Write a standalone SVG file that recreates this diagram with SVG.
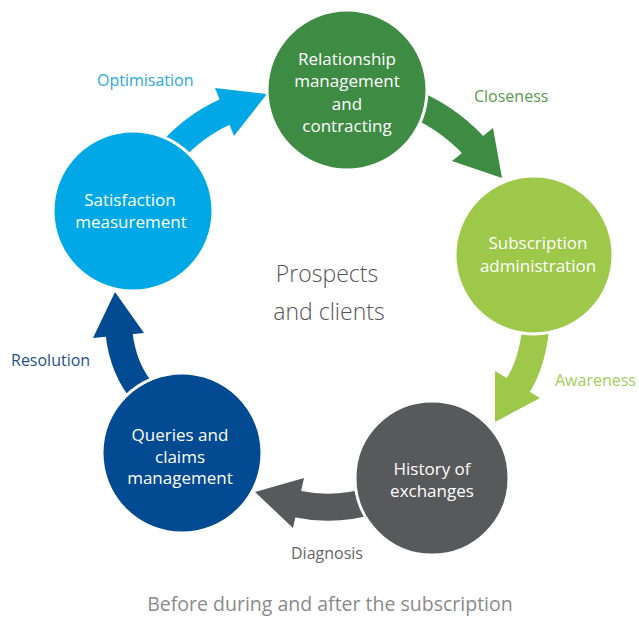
<svg xmlns="http://www.w3.org/2000/svg" width="639" height="618" viewBox="0 0 639 618">
<style>
.node{stroke:#fff;stroke-width:3}
.nt{font-family:"Open Sans","Liberation Sans",sans-serif;font-size:17px;fill:#fff;text-anchor:middle}
.lb{font-family:"Open Sans","Liberation Sans",sans-serif;font-size:16px}
.ctr{font-family:"Open Sans","Liberation Sans",sans-serif;font-size:23px;font-weight:300;fill:#555;text-anchor:middle}
.cap{font-family:"Open Sans","Liberation Sans",sans-serif;font-size:19.5px;fill:#8a8a8a;text-anchor:middle}
.shaft{fill:none;stroke-width:27;stroke-linecap:butt}
</style>
<rect width="639" height="618" fill="#fff"/>
<g id="connectors">
  <g id="arrow-optimisation">
    <path class="shaft" stroke="#00a9e6" d="M160 165 Q188 128 227 111"/>
    <polygon fill="#00a9e6" points="267,94 215,88 234,136"/>
  </g>
  <g id="arrow-closeness">
    <path class="shaft" stroke="#3e8b43" d="M405 100 Q445 115 474 146"/>
    <polygon fill="#3e8b43" points="502,178 493,128 452,161"/>
  </g>
  <g id="arrow-awareness">
    <path class="shaft" stroke="#9dc84a" d="M537 315 Q534 362 517 387"/>
    <polygon fill="#9dc84a" points="495,422 495,371 540,398"/>
  </g>
  <g id="arrow-diagnosis">
    <path class="shaft" stroke="#58595b" d="M375 500 Q335 512 297 504"/>
    <polygon fill="#58595b" points="255,492 304,478 293,528"/>
  </g>
  <g id="arrow-resolution">
    <path class="shaft" stroke="#024a92" d="M145 395 Q123 370 119 333"/>
    <polygon fill="#024a92" points="115,292 93,338 144,333"/>
  </g>
</g>
<g id="node-relationship">
  <circle class="node" cx="347" cy="90" r="80" fill="#3e8b43"/>
  <text class="nt" x="347" y="65">Relationship</text>
  <text class="nt" x="347" y="87">management</text>
  <text class="nt" x="347" y="110">and</text>
  <text class="nt" x="347" y="132">contracting</text>
</g>
<g id="node-subscription">
  <circle class="node" cx="534" cy="255" r="79" fill="#9dc84a"/>
  <text class="nt" x="538" y="249">Subscription</text>
  <text class="nt" x="538" y="272">administration</text>
</g>
<g id="node-history">
  <circle class="node" cx="432" cy="478" r="77" fill="#58595b"/>
  <text class="nt" x="432" y="475">History of</text>
  <text class="nt" x="432" y="497">exchanges</text>
</g>
<g id="node-queries">
  <circle class="node" cx="182" cy="453" r="80" fill="#024a92"/>
  <text class="nt" x="180" y="441">Queries and</text>
  <text class="nt" x="180" y="463">claims</text>
  <text class="nt" x="180" y="484">management</text>
</g>
<g id="node-satisfaction">
  <circle class="node" cx="133" cy="211" r="80" fill="#00a9e6"/>
  <text class="nt" x="130" y="206">Satisfaction</text>
  <text class="nt" x="131" y="228">measurement</text>
</g>
<g id="labels">
  <text class="lb" x="97" y="86" fill="#2aa9e0">Optimisation</text>
  <text class="lb" x="474" y="102" fill="#5a9a50">Closeness</text>
  <text class="lb" x="555" y="386" fill="#a3cc5a">Awareness</text>
  <text class="lb" x="291" y="559" fill="#666">Diagnosis</text>
  <text class="lb" x="11" y="366" fill="#1f4f8f">Resolution</text>
</g>
<g id="center">
  <text class="ctr" x="327" y="282">Prospects</text>
  <text class="ctr" x="329" y="320">and clients</text>
</g>
<text class="cap" x="330" y="611">Before during and after the subscription</text>
</svg>
